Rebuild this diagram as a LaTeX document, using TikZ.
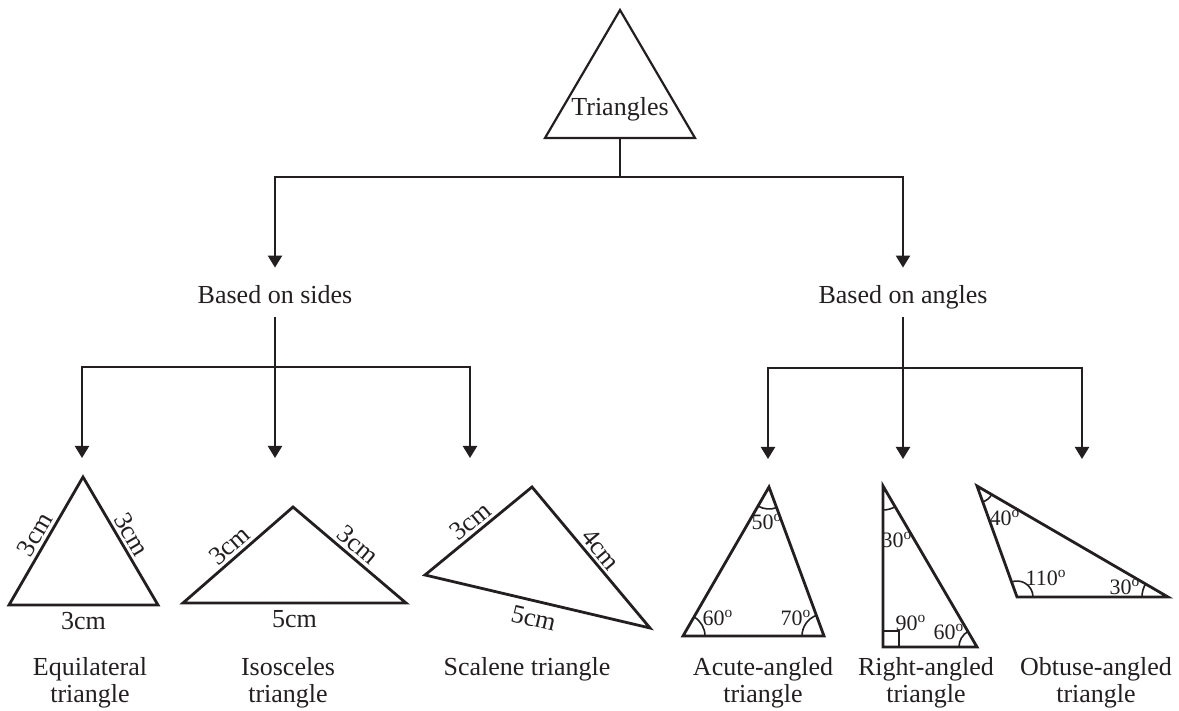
\documentclass[tikz,border=0pt]{standalone}
\usepackage{fontspec}
\setmainfont{Liberation Serif}
\usetikzlibrary{arrows.meta,angles}
\definecolor{ink}{HTML}{231F20}

\begin{document}
\begin{tikzpicture}[x=.5pt,y=-.5pt,
    every node/.style={font=\fontsize{13}{13.5}\selectfont,text=ink},
    wire/.style={ink,line width=1.1pt},
    arr/.style={wire,-{Triangle[width=7pt,length=6pt]}},
    tri/.style={ink,line width=1.4pt,line join=miter},
    sidelbl/.style={sloped,inner sep=2pt},
    ang/.style={draw=ink,line width=.8pt,angle radius=#1},
    ang/.default=11pt,
    branch/.style={text height=12pt,text depth=1pt,inner xsep=0pt,inner ysep=5.75pt},
    typename/.style={align=center},
    deg/.style={font=\fontsize{11}{12}\selectfont,inner sep=0pt}]
  \useasboundingbox (0,0) rectangle (1179,711);

  % root
  \coordinate (rt) at (620,10);
  \coordinate (rl) at (545,138);
  \coordinate (rr) at (695,138);
  \coordinate (rb) at (620,138);
  \draw[wire] (rt) -- (rl) -- (rr) -- cycle;
  \node (root) at (620,109) {Triangles};

  \node[branch] (sides) at (275,292.5) {Based on sides};
  \node[branch] (angles) at (903,292.5) {Based on angles};
  \draw[arr] (rb) -- ++(0,39) -| (sides.north);
  \draw[arr] (rb) -- ++(0,39) -| (angles.north);

  % arrow ends
  \coordinate (equi) at (82,458);
  \coordinate (iso) at (275,458);
  \coordinate (scal) at (470,458);
  \coordinate (acute) at (768,459);
  \coordinate (right) at (903,459);
  \coordinate (obtuse) at (1082,459);
  \foreach \t in {equi,scal}
    \draw[arr] (sides.south) -- ++(0,50) -| (\t);
  \draw[arr] (sides.south) -- (iso);
  \foreach \t in {acute,obtuse}
    \draw[arr] (angles.south) -- ++(0,51) -| (\t);
  \draw[arr] (angles.south) -- (right);

  % equilateral
  \coordinate (e1) at (9,605);
  \coordinate (e2) at (83,477);
  \coordinate (e3) at (158,605);
  \draw[tri] (e1) -- (e2) -- (e3) -- cycle;
  \path (e1) -- node[sidelbl,above] {3cm} (e2) -- node[sidelbl,above] {3cm} (e3);
  \path (e1) -- node[below] {3cm} (e3);

  % isosceles
  \coordinate (i1) at (183,603);
  \coordinate (i2) at (293,507);
  \coordinate (i3) at (406,603);
  \draw[tri] (i1) -- (i2) -- (i3) -- cycle;
  \path (i1) -- node[sidelbl,above] {3cm} (i2) -- node[sidelbl,above] {3cm} (i3);
  \path (i1) -- node[below] {5cm} (i3);

  % scalene
  \coordinate (s1) at (425,575);
  \coordinate (s2) at (532,487);
  \coordinate (s3) at (650,628);
  \draw[tri] (s1) -- (s2) -- (s3) -- cycle;
  \path (s1) -- node[sidelbl,above] {3cm} (s2) -- node[sidelbl,above] {4cm} (s3);
  \path (s1) -- node[sidelbl,below,inner sep=4pt] {5cm} (s3);

  % acute
  \coordinate (a1) at (683,636);
  \coordinate (a2) at (824,636);
  \coordinate (a3) at (769,487);
  \draw[tri] (a1) -- (a2) -- (a3) -- cycle;
  \pic[ang] {angle=a2--a1--a3};
  \pic[ang] {angle=a3--a2--a1};
  \pic[ang] {angle=a1--a3--a2};

  % right
  \coordinate (r1) at (883,647);
  \coordinate (r2) at (977,647);
  \coordinate (r3) at (883,486);
  \draw[tri] (r1) -- (r2) -- (r3) -- cycle;
  \pic[ang=9pt] {angle=r3--r2--r1};
  \pic[ang=12pt] {angle=r1--r3--r2};
  \draw[ink,line width=.8pt] (r1) rectangle ++(16,-16);

  % obtuse
  \coordinate (o1) at (1017,597);
  \coordinate (o2) at (1168,597);
  \coordinate (o3) at (977,486);
  \draw[tri] (o1) -- (o2) -- (o3) -- cycle;
  \pic[ang=8pt] {angle=o2--o1--o3};
  \pic[ang=13pt] {angle=o3--o2--o1};
  \pic[ang=8.5pt] {angle=o1--o3--o2};

  % angle values
  \foreach \n/\x/\y/\v in {d1/767/522/50,d2/718/618/60,d3/796/618/70,
      d4/897/540/30,d5/911/623/90,d6/949/632/60,
      d7/1005/518/40,d8/1046/578/110,d9/1125/587/30}
    \node[deg] (\n) at (\x,\y) {\v\textsuperscript{o}};

  % names
  \node[typename] (nequi) at (90,683) {Equilateral\\triangle};
  \node[typename] (niso) at (288,683) {Isosceles\\triangle};
  \node (nscal) at (527,669) {Scalene triangle};
  \node[typename] (nacute) at (763,683) {Acute-angled\\triangle};
  \node[typename] (nright) at (926,683) {Right-angled\\triangle};
  \node[typename] (nobtuse) at (1096,683) {Obtuse-angled\\triangle};
\end{tikzpicture}
\end{document}
